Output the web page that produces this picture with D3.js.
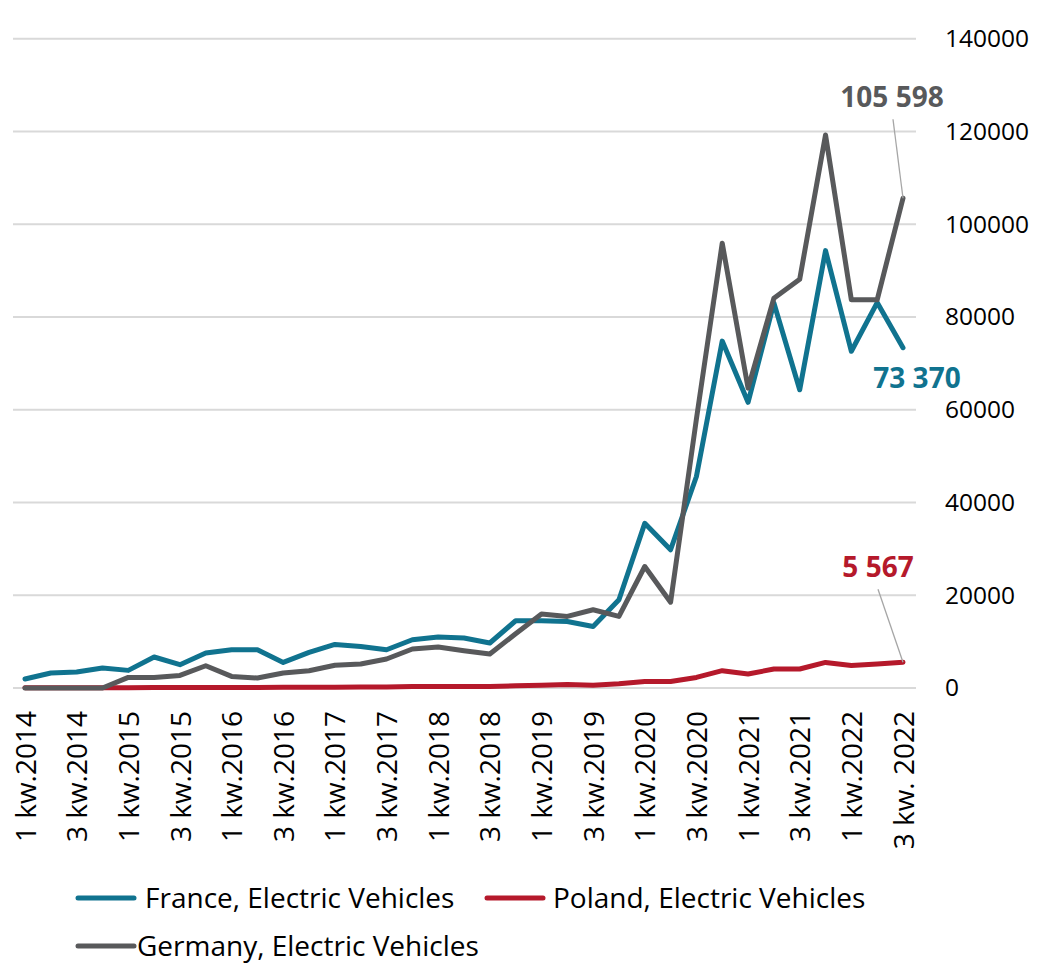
<!DOCTYPE html>
<html>
<head>
<meta charset="utf-8">
<script src="https://cdn.jsdelivr.net/npm/d3@7"></script>
<style>
  body { margin: 0; background: #fff; }
  svg { display: block; }
</style>
</head>
<body>
<script>
var width = 1048,
    height = 966;

// quarters 1 kw.2014 .. 3 kw.2022
var years = [2014, 2015, 2016, 2017, 2018, 2019, 2020, 2021, 2022];
var quarters = [];
years.forEach(function(y) {
    [1, 2, 3, 4].forEach(function(q) {
        if (y === 2022 && q > 3) return;
        quarters.push(q + " kw." + (y === 2022 && q === 3 ? " " : "") + y);
    });
});

var france = [1940, 3230, 3450, 4310, 3800, 6680, 5020, 7540, 8250, 8250, 5520, 7670,
    9400, 8960, 8250, 10400, 10990, 10770, 9700, 14500, 14500, 14350, 13270, 19030,
    35500, 29800, 45600, 74800, 61600, 83000, 64300, 94300, 72600, 83100, 73370];
var poland = [40, 50, 60, 70, 80, 90, 100, 110, 120, 130, 140, 150,
    150, 190, 230, 300, 310, 320, 300, 500, 600, 750, 600, 900,
    1420, 1400, 2280, 3730, 3020, 4090, 4090, 5520, 4870, 5170, 5567];
var germany = [0, 0, 0, 0, 2280, 2280, 2720, 4800, 2500, 2150, 3230, 3730,
    4900, 5170, 6250, 8400, 8840, 8040, 7330, 11700, 15950, 15430, 16870, 15430,
    26200, 18500, 58000, 95900, 64650, 84050, 88140, 119240, 83700, 83700, 105598];

var yTicks = [0, 20000, 40000, 60000, 80000, 100000, 120000, 140000];

var series = [
    {name: "France, Electric Vehicles", values: france, color: "#10738f", label: "73 370", ldx: 14, ldy: 40, leader: false},
    {name: "Poland, Electric Vehicles", values: poland, color: "#b5192b", label: "5 567", ldx: -25, ldy: -85, leader: true},
    {name: "Germany, Electric Vehicles", values: germany, color: "#58595b", label: "105 598", ldx: -11, ldy: -91, leader: true}
];

var svg = d3.select("body").append("svg")
    .attr("width", width)
    .attr("height", height);

var x = d3.scalePoint()
    .domain(quarters)
    .range([25, 903]);

var y = d3.scaleLinear()
    .domain([0, 140000])
    .range([688, 38.7]);

// gridlines
svg.append("g")
    .selectAll("line")
    .data(yTicks)
    .enter().append("line")
    .attr("x1", 13)
    .attr("x2", 916)
    .attr("y1", function(d) { return y(d); })
    .attr("y2", function(d) { return y(d); })
    .attr("stroke", "#d9d9d9")
    .attr("stroke-width", 2);

// y axis on the right
var yAxis = svg.append("g")
    .attr("transform", "translate(937,0)")
    .call(d3.axisRight(y).tickValues(yTicks).tickSize(0).tickPadding(8).tickFormat(d3.format("d")));
yAxis.select(".domain").remove();
yAxis.selectAll("text")
    .attr("font-family", "'Open Sans', sans-serif")
    .attr("font-size", 24.5)
    .attr("fill", "#000");

// x axis
var xAxis = svg.append("g")
    .attr("transform", "translate(0," + y(0) + ")")
    .call(d3.axisBottom(x)
        .tickValues(quarters.filter(function(d, i) { return i % 2 === 0; }))
        .tickSize(0));
xAxis.select(".domain").remove();
xAxis.selectAll("text")
    .attr("font-family", "'Open Sans', sans-serif")
    .attr("font-size", 28)
    .attr("fill", "#000")
    .attr("text-anchor", "end")
    .attr("transform", "rotate(-90)")
    .attr("x", -23)
    .attr("y", 0)
    .attr("dy", "0.36em");

var line = d3.line()
    .x(function(d, i) { return x(quarters[i]); })
    .y(function(d) { return y(d); });

svg.append("g")
    .selectAll("path")
    .data(series)
    .enter().append("path")
    .attr("d", function(s) { return line(s.values); })
    .attr("fill", "none")
    .attr("stroke", function(s) { return s.color; })
    .attr("stroke-width", 5)
    .attr("stroke-linejoin", "round")
    .attr("stroke-linecap", "round");

// end labels
series.forEach(function(s) {
    var last = s.values.length - 1;
    var px = x(quarters[last]),
        py = y(s.values[last]);
    if (s.leader) {
        svg.append("line")
            .attr("x1", px)
            .attr("y1", py)
            .attr("x2", px + s.ldx + (s.ldx < -20 ? 0 : 1))
            .attr("y2", py + s.ldy + 12)
            .attr("stroke", "#a6a6a6")
            .attr("stroke-width", 1.3);
    }
    svg.append("text")
        .attr("x", px + s.ldx)
        .attr("y", py + s.ldy)
        .attr("text-anchor", "middle")
        .attr("font-family", "'Open Sans', sans-serif")
        .attr("font-weight", "bold")
        .attr("font-size", 28)
        .attr("fill", s.color)
        .text(s.label);
});

// legend
var legendPos = [
    {lx: 78, ty: 898, tx: 145},
    {lx: 487, ty: 898, tx: 553},
    {lx: 78, ty: 946, tx: 137}
];
var legend = svg.append("g")
    .selectAll("g")
    .data(series)
    .enter().append("g");
legend.append("line")
    .attr("x1", function(d, i) { return legendPos[i].lx; })
    .attr("x2", function(d, i) { return legendPos[i].lx + 56; })
    .attr("y1", function(d, i) { return legendPos[i].ty; })
    .attr("y2", function(d, i) { return legendPos[i].ty; })
    .attr("stroke", function(d) { return d.color; })
    .attr("stroke-width", 5)
    .attr("stroke-linecap", "round");
legend.append("text")
    .attr("x", function(d, i) { return legendPos[i].tx; })
    .attr("y", function(d, i) { return legendPos[i].ty; })
    .attr("dy", "0.35em")
    .attr("font-family", "'Open Sans', sans-serif")
    .attr("font-size", 28)
    .attr("fill", "#000")
    .text(function(d) { return d.name; });
</script>
</body>
</html>
